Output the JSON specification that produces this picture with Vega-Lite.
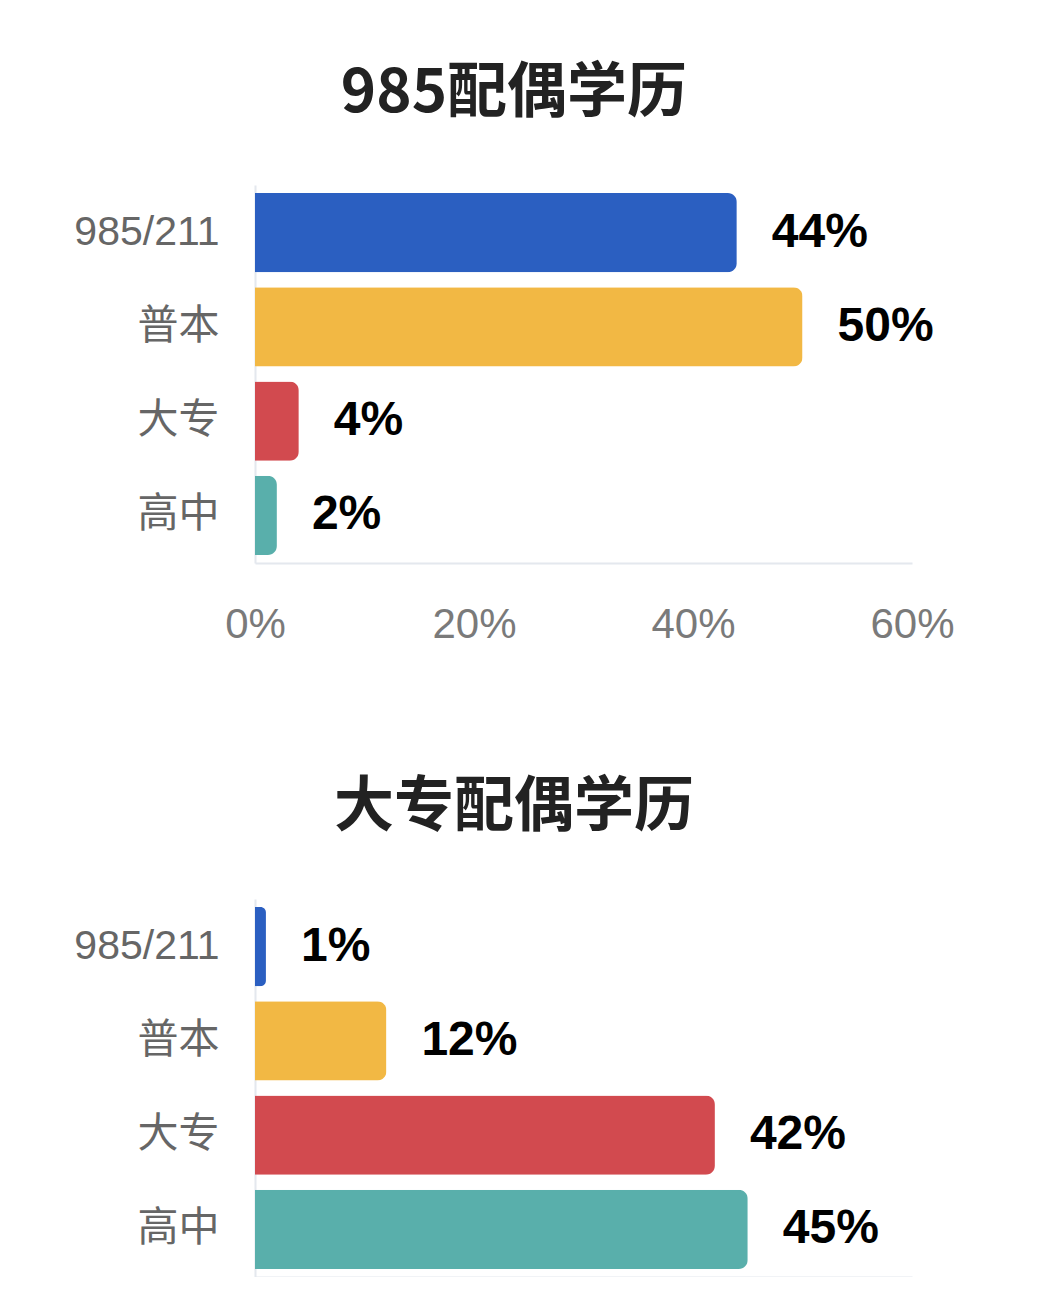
{
  "$schema": "https://vega.github.io/schema/vega-lite/v6.json",
  "background": "white",
  "padding": {"left": 73, "top": 64, "right": 40, "bottom": 0},
  "datasets": {
    "spouse985": [
      {"edu": "985/211", "share": 0.44},
      {"edu": "普本", "share": 0.50},
      {"edu": "大专", "share": 0.04},
      {"edu": "高中", "share": 0.02}
    ],
    "spouseDazhuan": [
      {"edu": "985/211", "share": 0.01},
      {"edu": "普本", "share": 0.12},
      {"edu": "大专", "share": 0.42},
      {"edu": "高中", "share": 0.45}
    ]
  },
  "config": {
    "view": {"stroke": null},
    "font": "Noto Sans CJK SC",
    "title": {
      "font": "Noto Sans CJK SC",
      "fontSize": 60,
      "fontWeight": "bold",
      "color": "#222222",
      "anchor": "middle",
      "frame": "bounds",
      "offset": 60
    },
    "axisY": {
      "title": null,
      "ticks": false,
      "grid": false,
      "domainColor": "#e4e8ee",
      "domainWidth": 2,
      "labelFont": "Liberation Sans, Noto Sans CJK SC",
      "labelFontSize": 41,
      "labelColor": "#666666",
      "labelPadding": 36
    },
    "axisX": {
      "title": null,
      "ticks": false,
      "grid": false,
      "domainColor": "#e4e8ee",
      "domainWidth": 2,
      "labelFont": "Liberation Sans",
      "labelFontSize": 42,
      "labelColor": "#7a7a7a",
      "labelPadding": 41,
      "labelFlush": false,
      "format": ".0%"
    }
  },
  "spacing": 133,
  "vconcat": [
    {
      "title": "985配偶学历",
      "width": 657,
      "height": 378,
      "data": {"name": "spouse985"},
      "encoding": {
        "y": {
          "field": "edu",
          "type": "nominal",
          "sort": null,
          "scale": {"paddingInner": 0.16, "paddingOuter": 0.085}
        },
        "x": {
          "field": "share",
          "type": "quantitative",
          "scale": {"domain": [0, 0.6]},
          "axis": {"values": [0, 0.2, 0.4, 0.6]}
        }
      },
      "layer": [
        {
          "mark": {"type": "bar", "cornerRadiusEnd": 9},
          "encoding": {
            "color": {
              "field": "edu",
              "type": "nominal",
              "scale": {
                "domain": ["985/211", "普本", "大专", "高中"],
                "range": ["#2b5fc1", "#f2b844", "#d24a4f", "#59afab"]
              },
              "legend": null
            }
          }
        },
        {
          "mark": {
            "type": "text",
            "align": "left",
            "baseline": "middle",
            "dx": 35,
            "font": "Liberation Sans",
            "fontSize": 48,
            "fontWeight": "bold",
            "color": "#000000"
          },
          "encoding": {
            "text": {"field": "share", "type": "quantitative", "format": ".0%"}
          }
        }
      ]
    },
    {
      "title": {"text": "大专配偶学历", "dx": 21},
      "width": 657,
      "height": 378,
      "data": {"name": "spouseDazhuan"},
      "encoding": {
        "y": {
          "field": "edu",
          "type": "nominal",
          "sort": null,
          "scale": {"paddingInner": 0.16, "paddingOuter": 0.085}
        },
        "x": {
          "field": "share",
          "type": "quantitative",
          "scale": {"domain": [0, 0.6]},
          "axis": {"labels": false}
        }
      },
      "layer": [
        {
          "mark": {"type": "bar", "cornerRadiusEnd": 9},
          "encoding": {
            "color": {
              "field": "edu",
              "type": "nominal",
              "scale": {
                "domain": ["985/211", "普本", "大专", "高中"],
                "range": ["#2b5fc1", "#f2b844", "#d24a4f", "#59afab"]
              },
              "legend": null
            }
          }
        },
        {
          "mark": {
            "type": "text",
            "align": "left",
            "baseline": "middle",
            "dx": 35,
            "font": "Liberation Sans",
            "fontSize": 48,
            "fontWeight": "bold",
            "color": "#000000"
          },
          "encoding": {
            "text": {"field": "share", "type": "quantitative", "format": ".0%"}
          }
        }
      ]
    }
  ]
}
